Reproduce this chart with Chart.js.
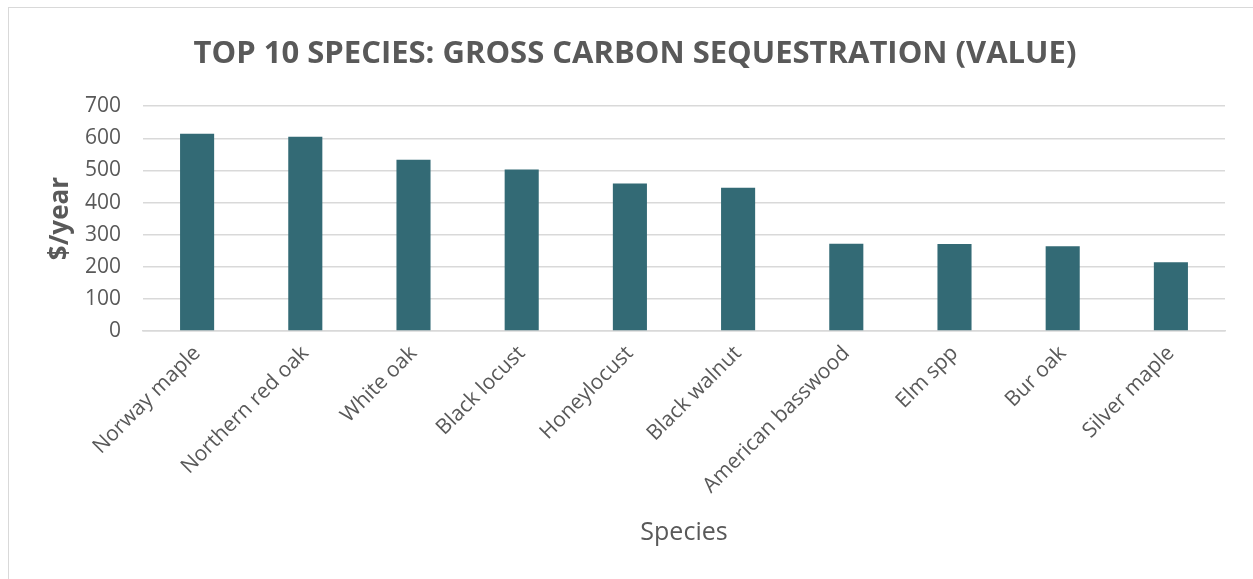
<!DOCTYPE html>
<html>
<head>
<meta charset="utf-8">
<script src="https://cdn.jsdelivr.net/npm/chart.js@4.4.1/dist/chart.umd.min.js"></script>
<style>
  html, body { margin: 0; padding: 0; background: #fff; }
  #frame {
    position: absolute; left: 8px; top: 7px; width: 1300px; height: 600px;
    border-left: 1px solid #d9d9d9; border-top: 1px solid #d9d9d9;
  }
  #wrap { position: absolute; left: 0; top: 0; width: 1253px; height: 579px; }
</style>
</head>
<body>
<div id="frame"></div>
<div id="wrap"><canvas id="chart"></canvas></div>
<script>
// Chart values
const species = [
  "Norway maple", "Northern red oak", "White oak", "Black locust", "Honeylocust",
  "Black walnut", "American basswood", "Elm spp", "Bur oak", "Silver maple"
];
const values = [614, 605, 533, 503, 459, 446, 272, 271, 264, 214];
const yTicks = [0, 100, 200, 300, 400, 500, 600, 700];

const grey = "#595959";
const font = "'Open Sans', 'Noto Sans', sans-serif";

const ctx = document.getElementById("chart").getContext("2d");

new Chart(ctx, {
  type: "bar",
  data: {
    labels: species,
    datasets: [{
      label: "Value",
      data: values,
      backgroundColor: "#336a75",
      borderWidth: 0,
      categoryPercentage: 1,
      barPercentage: 0.315
    }]
  },
  options: {
    responsive: true,
    maintainAspectRatio: false,
    animation: false,
    layout: { padding: { left: 45, right: 28, top: 36, bottom: 31 } },
    plugins: {
      legend: { display: false },
      tooltip: { enabled: false },
      title: {
        display: true,
        text: "TOP 10 SPECIES: GROSS CARBON SEQUESTRATION (VALUE)",
        color: grey,
        font: { family: font, size: 31, weight: "bold" },
        padding: { top: 0, bottom: 33 }
      }
    },
    scales: {
      x: {
        grid: { display: false },
        border: { display: true, color: "#d9d9d9", width: 1.5 },
        ticks: {
          color: grey,
          font: { family: font, size: 21 },
          maxRotation: 45,
          minRotation: 45,
          padding: 2
        },
        title: {
          display: true,
          text: "Species",
          color: grey,
          font: { family: font, size: 25 },
          padding: { top: 0, bottom: 0 }
        },
        afterFit: s => { s.height = 579 - 331 - 31; }
      },
      y: {
        min: 0,
        max: 700,
        afterBuildTicks: s => { s.ticks = yTicks.map(v => ({ value: v })); },
        grid: { color: "#d9d9d9", lineWidth: 1.5, drawTicks: false },
        border: { display: false },
        ticks: {
          color: grey,
          font: { family: font, size: 21 },
          padding: 22
        },
        title: {
          display: true,
          text: "$/year",
          color: grey,
          font: { family: font, size: 26, weight: "bold" },
          padding: { top: 0, bottom: 0 }
        },
        afterFit: s => { s.width = 143 - 45; }
      }
    }
  }
});
</script>
</body>
</html>
